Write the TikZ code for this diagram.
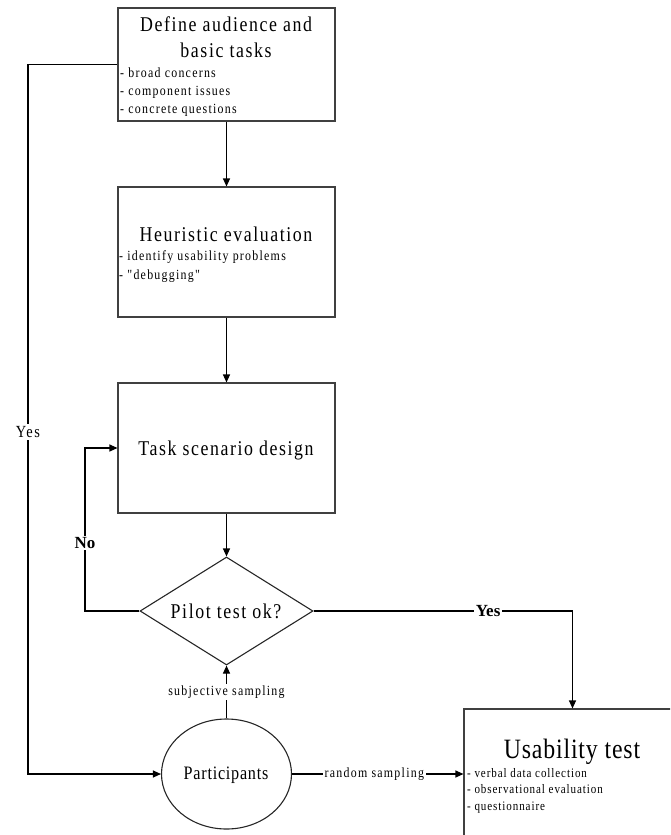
\documentclass[tikz,border=0pt]{standalone}
\usepackage{fontspec}
\setmainfont{Liberation Serif}
\newfontfamily\ttlfont[FakeStretch=0.85, LetterSpace=7.5]{Liberation Serif}
\newfontfamily\bulfont[FakeStretch=0.85, LetterSpace=9]{Liberation Serif}
\newfontfamily\ubulfont[FakeStretch=0.85, LetterSpace=7]{Liberation Serif}
\newfontfamily\bigfont[FakeStretch=0.85, LetterSpace=3]{Liberation Serif}
\newfontfamily\partfont[FakeStretch=0.85, LetterSpace=4]{Liberation Serif}
\usetikzlibrary{arrows.meta,shapes.geometric}
\begin{document}
\begin{tikzpicture}[x=1pt,y=-1pt,
  box/.style={draw=black!75, line width=1.1pt, rectangle, minimum width=217pt, inner sep=0pt},
  conn/.style={line width=1.1pt, -{Triangle[length=8pt,width=7pt]}},
  ttl/.style={anchor=base, inner sep=0pt, font=\ttlfont\fontsize{21}{24}\selectfont},
  bul/.style={anchor=base west, inner sep=0pt, font=\bulfont\fontsize{14}{16}\selectfont},
  ubul/.style={anchor=base west, inner sep=0pt, font=\ubulfont\fontsize{13}{15}\selectfont},
  lbl/.style={fill=white, inner sep=2pt, font=\bulfont\fontsize{14}{16}\selectfont},
  blbl/.style={fill=white, inner sep=1.5pt, font=\bfseries\fontsize{17}{20}\selectfont},
]
\useasboundingbox (0,0) rectangle (670,835);
\clip (0,0) rectangle (670,835);

% boxes
\node[box, minimum height=113pt] (b1) at (226.5,64.5) {};
\node[box, minimum height=130pt] (b2) at (226.5,252) {};
\node[box, minimum height=130pt] (b3) at (226.5,448) {};
\node[draw=black!85, line width=1.1pt, diamond, minimum width=173pt, minimum height=108pt, inner sep=0pt] (dia) at (226.5,611) {};
\node[draw=black!85, line width=1.1pt, ellipse, minimum width=130pt, minimum height=110pt, inner sep=0pt] (part) at (226.5,774) {};
\node[box, minimum height=130pt] (ut) at (572.5,774) {};

% texts
\node[ttl] (t1a) at (226,31.7) {Define audience and};
\node[ttl] (t1b) at (226,57.3) {basic tasks};
\node[bul] (t1c) at (120,77.3) {- broad concerns};
\node[bul] (t1d) at (120,95.7) {- component issues};
\node[bul] (t1e) at (120,113.3) {- concrete questions};

\node[ttl] (t2a) at (226,241) {Heuristic evaluation};
\node[bul] (t2b) at (119,260) {- identify usability problems};
\node[bul] (t2c) at (119,279) {- "debugging"};

\node[ttl] (t3a) at (226,455) {Task scenario design};
\node[ttl] (tdia) at (226,618) {Pilot test ok?};
\node[anchor=base, inner sep=0pt, font=\partfont\fontsize{19}{22}\selectfont] (tpart) at (226,779) {Participants};

\node[anchor=base, inner sep=0pt, font=\bigfont\fontsize{28}{32}\selectfont] (tut) at (572,758) {Usability test};
\node[ubul] (tu1) at (467,777) {- verbal data collection};
\node[ubul] (tu2) at (467,793.5) {- observational evaluation};
\node[ubul] (tu3) at (467,810) {- questionnaire};

% connectors
\draw[conn] (b1.south) -- (b2.north);
\draw[conn] (b2.south) -- (b3.north);
\draw[conn] (b3.south) -- (dia.north);

\coordinate (n1) at (85,611);
\coordinate (n2) at (85,448);
\draw[conn] (dia.west) -- (n1) -- node[blbl, pos=0.417] (lno) {No} (n2) -- (b3.west);

\coordinate (y1) at (572.5,611);
\draw[conn] (dia.east) -- node[blbl, pos=0.674] (lyes) {Yes} (y1) -- (ut.north);

\coordinate (l1) at (28,64.5);
\coordinate (l2) at (28,774);
\draw[conn] (b1.west) -- (l1) -- node[fill=white, inner sep=2pt, font=\bulfont\fontsize{17}{19}\selectfont, pos=0.518] (lyes2) {Yes} (l2) -- (part.west);

\draw[conn] (part.north) -- node[lbl] (lsub) {subjective sampling} (dia.south);
\draw[conn] (part.east) -- node[lbl, pos=0.48] (lrand) {random sampling} (ut.west);
\end{tikzpicture}
\end{document}
